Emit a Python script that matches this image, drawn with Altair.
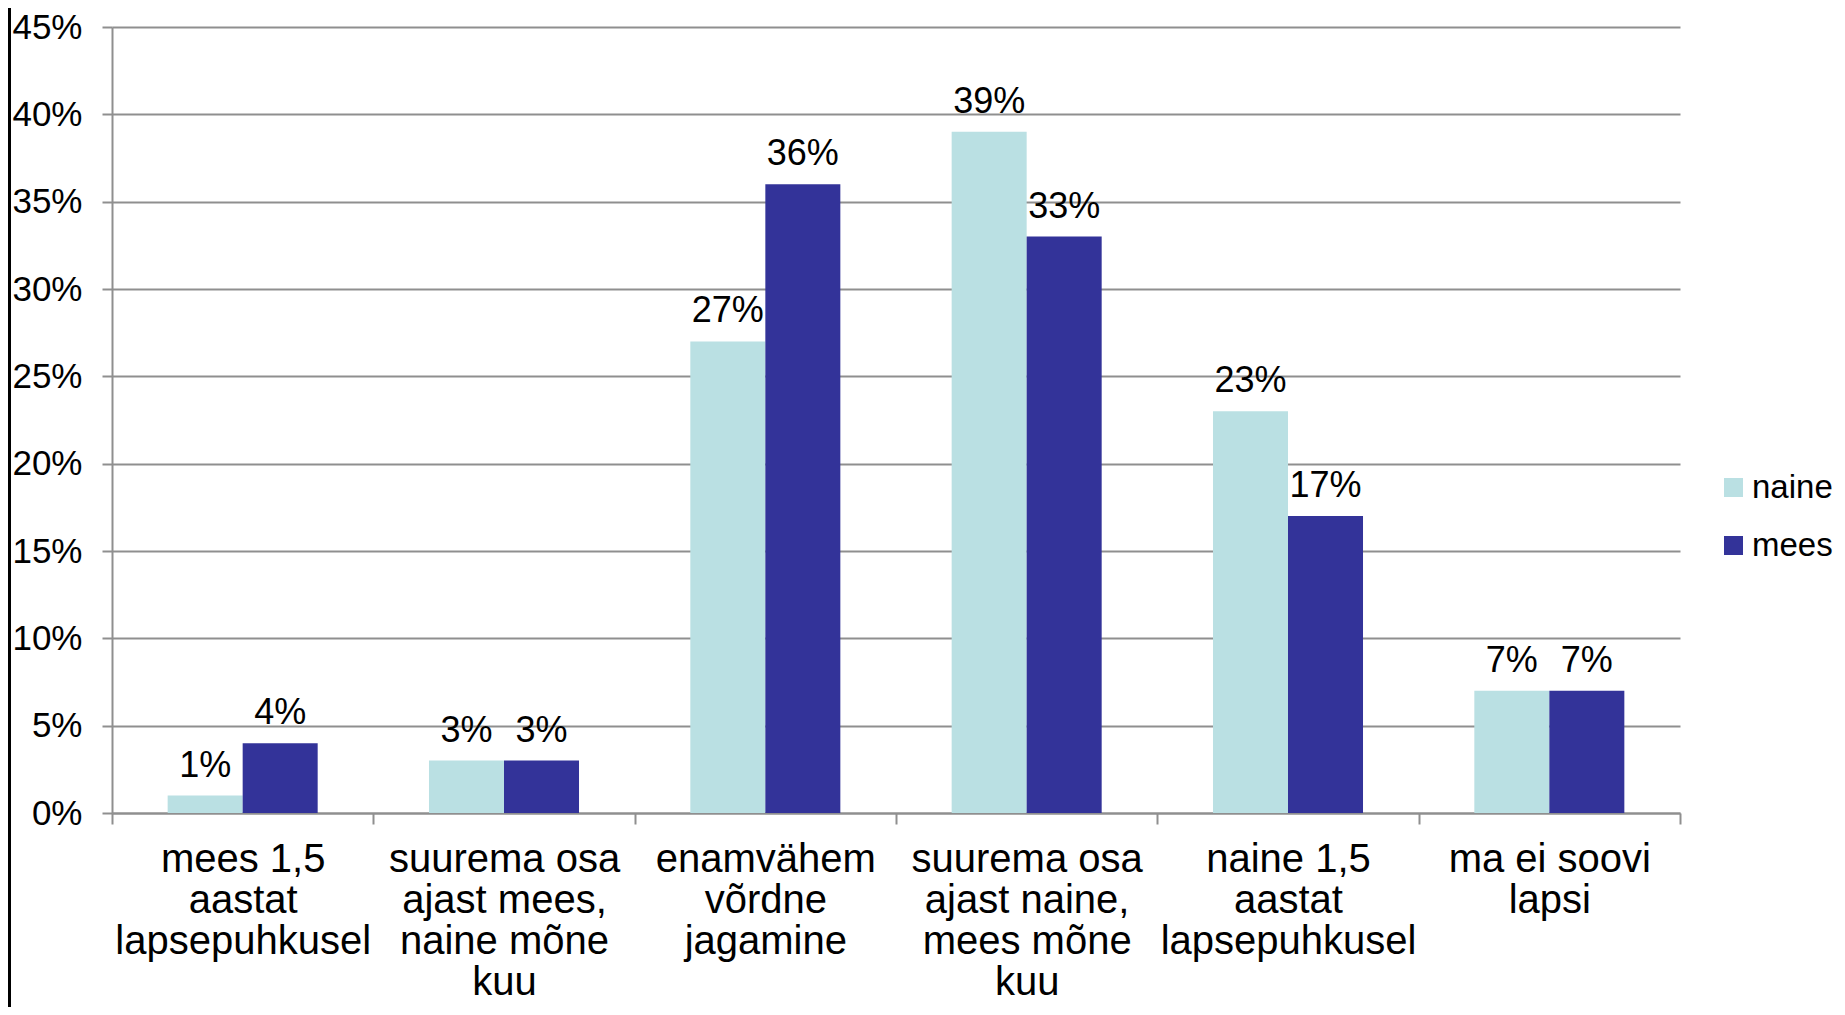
import altair as alt
import pandas as pd

categories = [
    "mees 1,5\naastat\nlapsepuhkusel",
    "suurema osa\najast mees,\nnaine mõne\nkuu",
    "enamvähem\nvõrdne\njagamine",
    "suurema osa\najast naine,\nmees mõne\nkuu",
    "naine 1,5\naastat\nlapsepuhkusel",
    "ma ei soovi\nlapsi",
]
series = ["naine", "mees"]
naine = [0.01, 0.03, 0.27, 0.39, 0.23, 0.07]
mees = [0.04, 0.03, 0.36, 0.33, 0.17, 0.07]
colors = ["#BAE0E3", "#333399"]
y_ticks = [0, 0.05, 0.10, 0.15, 0.20, 0.25, 0.30, 0.35, 0.40, 0.45]

rows = []
for c, a, b in zip(categories, naine, mees):
    rows.append({"cat": c, "sex": "naine", "val": a})
    rows.append({"cat": c, "sex": "mees", "val": b})
df = pd.DataFrame(rows)

FONT = "Liberation Sans"
GRAY = "#8f8f8f"

x_enc = alt.X(
    "cat:N",
    sort=categories,
    scale=alt.Scale(paddingInner=0, paddingOuter=0),
    axis=alt.Axis(
        title=None,
        labelAngle=0,
        labelExpr="split(datum.label, '\\n')",
        labelFontSize=40,
        labelLineHeight=41,
        labelFont=FONT,
        labelColor="black",
        labelLimit=0,
        labelPadding=15,
        tickBand="extent",
        tickSize=11,
        tickColor=GRAY,
        tickWidth=2,
        domainColor=GRAY,
        domainWidth=2,
        grid=False,
    ),
)
xoff = alt.XOffset(
    "sex:N", sort=series, scale=alt.Scale(paddingInner=0, paddingOuter=0.742)
)
y_enc = alt.Y(
    "val:Q",
    scale=alt.Scale(domain=[0, 0.45], nice=False),
    axis=alt.Axis(
        title=None,
        values=y_ticks,
        format=".0%",
        labelFontSize=35,
        labelFont=FONT,
        labelColor="black",
        labelPadding=20,
        tickSize=10,
        tickColor=GRAY,
        tickWidth=2,
        domainColor=GRAY,
        domainWidth=2,
        grid=True,
        gridColor=GRAY,
        gridWidth=2,
    ),
)

bars = alt.Chart(df).mark_bar().encode(
    x=x_enc,
    xOffset=xoff,
    y=y_enc,
    color=alt.Color(
        "sex:N",
        sort=series,
        scale=alt.Scale(domain=series, range=colors),
        legend=alt.Legend(
            title=None,
            orient="none",
            legendX=1605,
            legendY=444,
            symbolType="square",
            symbolSize=361,
            symbolStrokeWidth=0,
            labelFontSize=33,
            labelFont=FONT,
            labelColor="black",
            labelOffset=2,
            rowPadding=24,
            padding=0,
        ),
    ),
)

labels = alt.Chart(df).mark_text(
    baseline="alphabetic", dy=-19, fontSize=36, font=FONT, color="black"
).encode(
    x=alt.X("cat:N", sort=categories),
    xOffset=alt.XOffset("sex:N", sort=series),
    y="val:Q",
    text=alt.Text("val:Q", format=".0%"),
)

edge = alt.Chart(df).mark_rule(color="black", strokeWidth=3).encode(
    x=alt.value(-102.5), y=alt.value(-19), y2=alt.value(980)
)

chart = (
    alt.layer(bars, labels, edge)
    .properties(
        width=1568,
        height=786,
        autosize=alt.AutoSizeParams(type="none"),
        padding={"left": 104, "top": 19, "right": 157, "bottom": 194},
    )
    .configure_view(stroke=None)
)

chart.save("out.html", embed_options={"renderer": "svg", "actions": False})
